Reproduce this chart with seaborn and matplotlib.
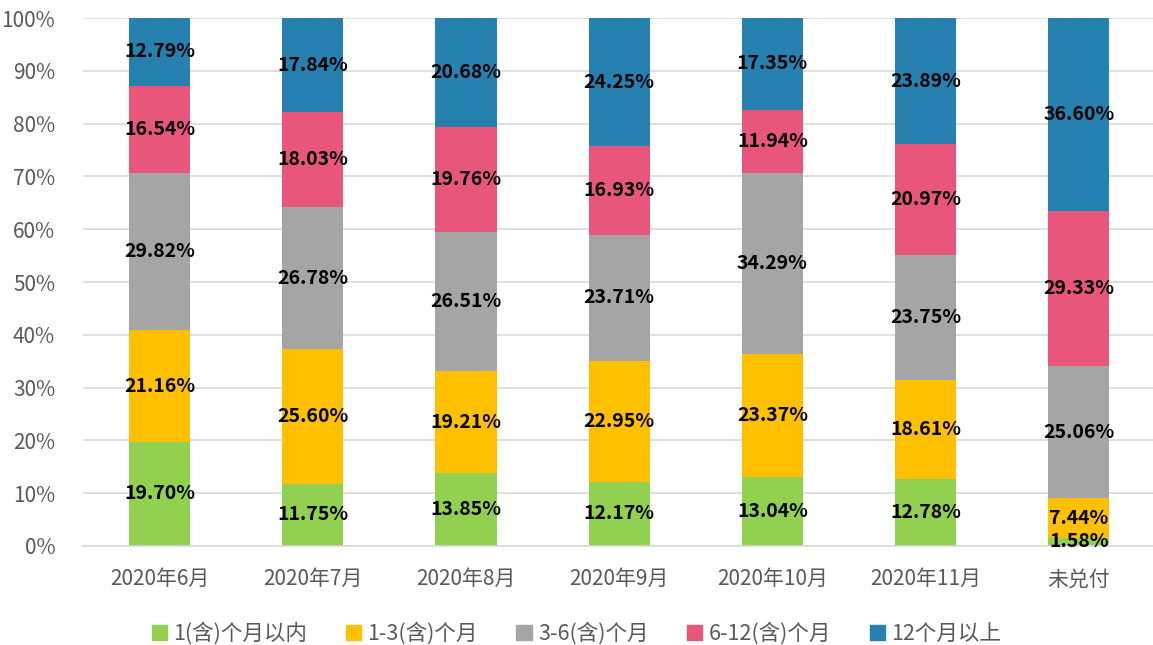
import numpy as np
import matplotlib
matplotlib.use("Agg")
import matplotlib.pyplot as plt
import matplotlib.patches as mpatches
import pandas as pd
import seaborn as sns

# 数据
months = ["2020年6月", "2020年7月", "2020年8月", "2020年9月", "2020年10月", "2020年11月", "未兑付"]
series_names = ["1(含)个月以内", "1-3(含)个月", "3-6(含)个月", "6-12(含)个月", "12个月以上"]
s_1m = [19.70, 11.75, 13.85, 12.17, 13.04, 12.78, 1.58]
s_1_3m = [21.16, 25.60, 19.21, 22.95, 23.37, 18.61, 7.44]
s_3_6m = [29.82, 26.78, 26.51, 23.71, 34.29, 23.75, 25.06]
s_6_12m = [16.54, 18.03, 19.76, 16.93, 11.94, 20.97, 29.33]
s_12m = [12.79, 17.84, 20.68, 24.25, 17.35, 23.89, 36.60]

colors = ["#92D050", "#FFC000", "#A5A5A5", "#E8567B", "#2681B1"]

sns.set_style("white")
plt.rcParams['font.family'] = ['Noto Sans CJK SC', 'DejaVu Sans']

values = np.array([s_1m, s_1_3m, s_3_6m, s_6_12m, s_12m])
cum = np.cumsum(values, axis=0)

fig = plt.figure(figsize=(11.53, 6.45), dpi=100)
ax = fig.add_axes([0.072, 0.1535, 0.93, 0.8185])

# 从上往下叠加绘制累积柱
for k in range(len(series_names) - 1, -1, -1):
    df = pd.DataFrame({"month": months, "value": cum[k]})
    sns.barplot(data=df, x="month", y="value", color=colors[k], width=0.4,
                saturation=1, linewidth=0, edgecolor="none", ax=ax, zorder=2)

# 数据标签
for k in range(len(series_names)):
    for i in range(len(months)):
        center = cum[k, i] - values[k, i] / 2
        ax.text(i, center, f"{values[k, i]:.2f}%", ha="center", va="center",
                fontsize=14, fontweight="bold", color="black", zorder=3)

ax.set_ylim(0, 100)
ax.set_xlim(-0.5, len(months) - 0.5)
ax.set_yticks(np.arange(0, 101, 10))
ax.set_yticklabels([f"{v}%" for v in range(0, 101, 10)])
ax.yaxis.grid(True, color="#D9D9D9", linewidth=1.2, zorder=0)
ax.set_axisbelow(True)
ax.set_xlabel("")
ax.set_ylabel("")
for side in ["top", "right", "left"]:
    ax.spines[side].set_visible(False)
ax.spines["bottom"].set_color("#D9D9D9")
ax.spines["bottom"].set_linewidth(1.2)
ax.tick_params(axis="both", length=0, labelsize=15, colors="#595959")
ax.tick_params(axis="x", pad=16)
ax.tick_params(axis="y", pad=20)

handles = [mpatches.Patch(color=c, label=n) for c, n in zip(colors, series_names)]
leg = fig.legend(handles=handles, loc="lower center", bbox_to_anchor=(0.5, -0.03),
                 ncol=5, frameon=False, fontsize=15.5, handlelength=0.7,
                 handleheight=0.7, handletextpad=0.3, columnspacing=1.8)
for t in leg.get_texts():
    t.set_color("#595959")

fig.savefig("out.png", dpi=100)
